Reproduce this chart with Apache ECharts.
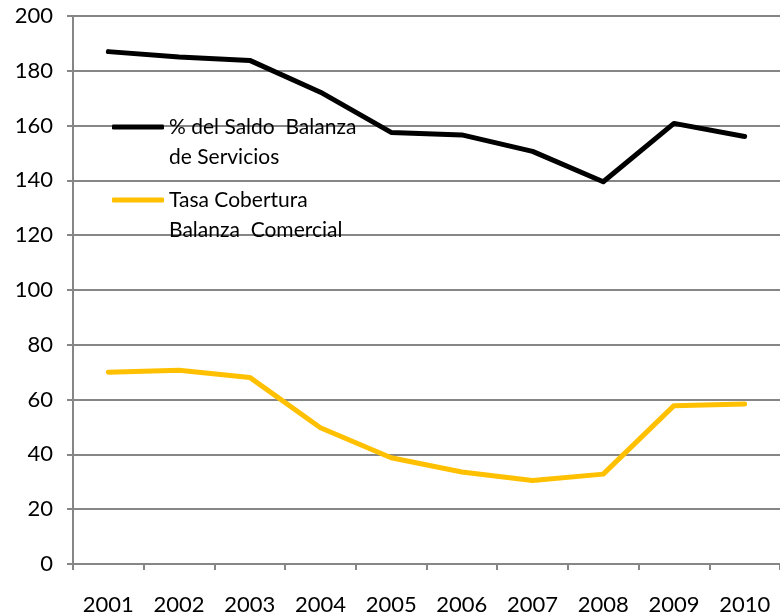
<!DOCTYPE html>
<html>
<head>
<meta charset="utf-8">
<script src="https://cdn.jsdelivr.net/npm/echarts@6/dist/echarts.min.js"></script>
<style>
  html, body { margin: 0; padding: 0; background: #fff; }
  #chart { width: 780px; height: 616px; }
</style>
</head>
<body>
<div id="chart"></div>
<script>
// Years on the category axis
const years = ['2001', '2002', '2003', '2004', '2005', '2006', '2007', '2008', '2009', '2010'];

// Series names (legend text wraps onto two lines)
const nameServicios = '% del Saldo  Balanza\nde Servicios';
const nameComercial = 'Tasa Cobertura\nBalanza  Comercial';

// Series values
const saldoServicios = [187, 185, 183.8, 172.2, 157.5, 156.6, 150.6, 139.5, 160.8, 156];
const tasaCobertura = [70, 70.7, 68.1, 49.7, 38.8, 33.6, 30.5, 32.8, 57.8, 58.4];

// Value axis range
const yMin = 0, yMax = 200, yStep = 20;

const font = 'Lato, "Noto Sans", sans-serif';
const axisGrey = '#868686';
const lineHeight = 30;

const chart = echarts.init(document.getElementById('chart'));

// One legend block per series; a blank leading line keeps the
// first text line level with the icon (text is centred on it).
function legendAt(name, top) {
  return {
    data: [name],
    left: 112,
    top: top,
    padding: 0,
    orient: 'vertical',
    icon: 'roundRect',
    itemWidth: 52,
    itemHeight: 5,
    itemGap: 0,
    selectedMode: false,
    formatter: n => ' \n' + n,
    textStyle: {
      fontFamily: font,
      fontSize: 21,
      color: '#000',
      lineHeight: lineHeight
    }
  };
}

chart.setOption({
  animation: false,
  backgroundColor: '#fff',
  grid: { left: 73, top: 16, width: 713, height: 548, containLabel: false },
  legend: [legendAt(nameServicios, 82), legendAt(nameComercial, 155)],
  xAxis: {
    type: 'category',
    data: years,
    boundaryGap: true,
    axisLine: { lineStyle: { color: axisGrey, width: 2 } },
    axisTick: { show: true, length: 6, lineStyle: { color: axisGrey, width: 2 } },
    axisLabel: { fontFamily: font, fontSize: 22, color: '#000', margin: 30 },
    splitLine: { show: false }
  },
  yAxis: {
    type: 'value',
    min: yMin,
    max: yMax,
    interval: yStep,
    axisLine: { show: true, lineStyle: { color: axisGrey, width: 2 } },
    axisTick: { show: true, length: 6, lineStyle: { color: axisGrey, width: 2 } },
    axisLabel: { fontFamily: font, fontSize: 22, color: '#000', margin: 20 },
    splitLine: { show: true, lineStyle: { color: axisGrey, width: 2 } }
  },
  series: [
    {
      name: nameServicios,
      type: 'line',
      data: saldoServicios,
      symbol: 'none',
      color: '#000',
      lineStyle: { color: '#000', width: 5, cap: 'round', join: 'round' }
    },
    {
      name: nameComercial,
      type: 'line',
      data: tasaCobertura,
      symbol: 'none',
      color: '#FFC000',
      lineStyle: { color: '#FFC000', width: 5, cap: 'round', join: 'round' }
    }
  ]
});
</script>
</body>
</html>
